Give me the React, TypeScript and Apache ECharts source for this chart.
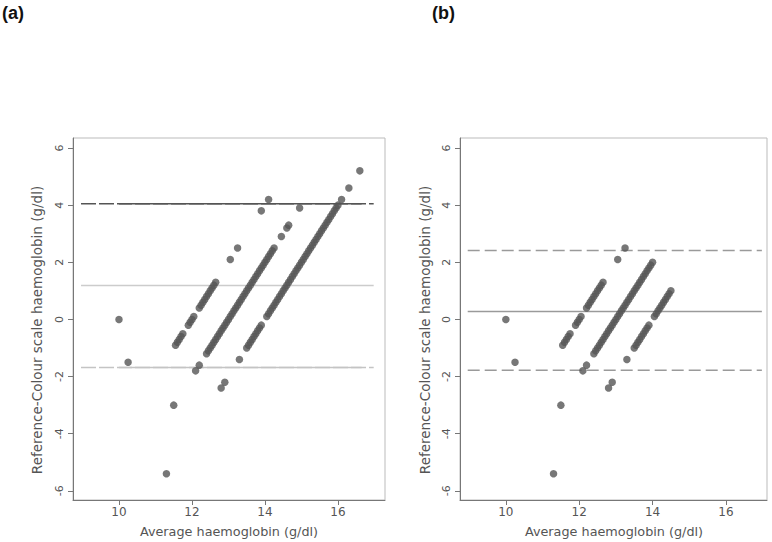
import React, { useEffect, useRef } from "react";
import * as echarts from "echarts";

// Colour-scale readings (g/dl) and the matching reference (analyser) readings (g/dl)
const scaleValues = [10, 11, 12, 13, 14];
const scale10Ref = [10.0];
const scale11Ref = [9.5];
const scale12Ref = [11.1, 11.2, 11.3, 11.4, 11.5, 11.8, 11.9, 12.0, 12.1, 12.4, 12.5, 12.6, 12.7, 12.8, 12.9, 13.0, 13.1, 13.2, 13.3, 14.1, 14.5, 15.8, 16.2];
const scale13Ref = [10.0, 11.2, 11.4, 11.8, 11.9, 12.0, 12.1, 12.2, 12.3, 12.4, 12.5, 12.6, 12.7, 12.8, 12.9, 13.0, 13.1, 13.2, 13.3, 13.4, 13.5, 13.6, 13.7, 13.8, 13.9, 14.0, 14.1, 14.2, 14.3, 14.4, 14.5, 14.6, 14.7, 14.8, 14.9, 15.0, 15.1, 15.2, 15.3, 15.4, 15.5, 15.9, 16.2, 16.3, 16.9];
const scale14Ref = [8.6, 11.6, 11.8, 12.6, 13.0, 13.1, 13.2, 13.3, 13.4, 13.5, 13.6, 13.7, 13.8, 14.1, 14.2, 14.3, 14.4, 14.5, 14.6, 14.7, 14.8, 14.9, 15.0, 15.1, 15.2, 15.3, 15.4, 15.5, 15.6, 15.7, 15.8, 15.9, 16.0, 16.1, 16.2, 16.3, 16.4, 16.5, 16.6, 16.7, 16.8, 16.9, 17.0, 17.1, 17.2, 17.3, 17.4, 17.5, 17.6, 17.7, 17.8, 17.9, 18.0, 18.2, 18.6, 19.2];
const referenceByScale = [scale10Ref, scale11Ref, scale12Ref, scale13Ref, scale14Ref];

// Panel (b) keeps readings with reference haemoglobin up to this value
const maxReferenceB = 15.0;

// Bias and limits of agreement (g/dl)
const limitsA = { lower: -1.68, mean: 1.19, upper: 4.05 };
const limitsB = { lower: -1.78, mean: 0.28, upper: 2.41 };

const xTicks = [10, 12, 14, 16];
const yTicks = [-6, -4, -2, 0, 2, 4, 6];
const panelTitles = ["(a)", "(b)"];
const xTitle = "Average haemoglobin (g/dl)";
const yTitle = "Reference-Colour scale haemoglobin (g/dl)";

function blandAltman(maxRef: number) {
  const pts: number[][] = [];
  scaleValues.forEach((s, i) => {
    referenceByScale[i].forEach((r) => {
      if (r <= maxRef) pts.push([+((r + s) / 2).toFixed(3), +(r - s).toFixed(3)]);
    });
  });
  return pts;
}

const LINE_X0 = 8.96;
const LINE_X1 = 16.98;
const SOLID_X0 = 10.0;
const SOLID_X1 = 16.65;
const FONT = "DejaVu Sans";
const TXT = "#555";

function hLine(idx: number, y: number, x0: number, x1: number, color: string, type: any, width = 1.5) {
  return {
    type: "line",
    xAxisIndex: idx,
    yAxisIndex: idx,
    data: [[x0, y], [x1, y]],
    symbol: "none",
    silent: true,
    z: 1,
    lineStyle: { color, width, type },
  };
}

function axisPair(idx: number, xmin: number, xmax: number) {
  const common = {
    axisLine: { show: true, onZero: false, lineStyle: { color: "#777", width: 1 } },
    axisTick: { show: true, length: 5, lineStyle: { color: "#777" } },
    splitLine: { show: false },
  };
  const x = {
    type: "value",
    gridIndex: idx,
    min: xmin,
    max: xmax,
    ...common,
    axisTick: { ...common.axisTick, customValues: xTicks },
    axisLabel: { customValues: xTicks, color: TXT, fontSize: 12, fontFamily: FONT, margin: 6 },
  };
  const y = {
    type: "value",
    gridIndex: idx,
    min: -6.32,
    max: 6.35,
    ...common,
    axisTick: { ...common.axisTick, customValues: yTicks },
    axisLabel: { customValues: yTicks, rotate: 90, color: TXT, fontSize: 11, fontFamily: FONT, margin: 8 },
  };
  return { x, y };
}

function titleTexts(xCenter: number, yTitleX: number) {
  return [
    {
      type: "text",
      x: xCenter,
      y: 531,
      style: { text: xTitle, fontFamily: FONT, fontSize: 12.8, fill: TXT, align: "center", verticalAlign: "middle" },
    },
    {
      type: "text",
      x: yTitleX,
      y: 330,
      rotation: Math.PI / 2,
      style: { text: yTitle, fontFamily: FONT, fontSize: 13.5, fill: TXT, align: "center", verticalAlign: "middle" },
    },
  ];
}

export default function App() {
  const ref = useRef<HTMLDivElement>(null);
  useEffect(() => {
    if (!ref.current) return;
    const chart = echarts.init(ref.current, undefined, { renderer: "svg" });
    const a = axisPair(0, 8.74, 17.29);
    const b = axisPair(1, 8.75, 17.12);
    const dotStyle = { color: "#555555" };
    chart.setOption({
      animation: false,
      backgroundColor: "#ffffff",
      grid: [
        { left: 73, top: 138, width: 312, height: 362, show: true, borderColor: "#bbbbbb", borderWidth: 1, backgroundColor: "transparent" },
        { left: 460, top: 138, width: 307, height: 362, show: true, borderColor: "#bbbbbb", borderWidth: 1, backgroundColor: "transparent" },
      ],
      xAxis: [a.x, b.x],
      yAxis: [a.y, b.y],
      graphic: [
        { type: "text", left: 2, top: 4, style: { text: panelTitles[0], font: "bold 18px 'Liberation Sans', Arial", fill: "#111" } },
        { type: "text", left: 432, top: 4, style: { text: panelTitles[1], font: "bold 18px 'Liberation Sans', Arial", fill: "#111" } },
        ...titleTexts(229, 37),
        ...titleTexts(614, 425),
      ],
      series: [
        // panel (a)
        hLine(0, limitsA.upper, LINE_X0, LINE_X1, "#555", [15, 3]),
        hLine(0, limitsA.upper, SOLID_X0, SOLID_X1, "#555", "solid"),
        hLine(0, limitsA.mean, LINE_X0, LINE_X1, "#cccccc", "solid"),
        hLine(0, limitsA.lower, LINE_X0, LINE_X1, "#c4c4c4", [15, 3]),
        hLine(0, limitsA.lower, SOLID_X0, SOLID_X1, "#c4c4c4", "solid"),
        {
          type: "scatter",
          xAxisIndex: 0,
          yAxisIndex: 0,
          data: blandAltman(Infinity),
          symbolSize: 7.5,
          itemStyle: dotStyle,
          z: 3,
        },
        // panel (b)
        hLine(1, limitsB.upper, LINE_X0, LINE_X1, "#9a9a9a", [12, 5]),
        hLine(1, limitsB.mean, LINE_X0, LINE_X1, "#9a9a9a", "solid"),
        hLine(1, limitsB.lower, LINE_X0, LINE_X1, "#9a9a9a", [12, 5]),
        {
          type: "scatter",
          xAxisIndex: 1,
          yAxisIndex: 1,
          data: blandAltman(maxReferenceB),
          symbolSize: 7.5,
          itemStyle: dotStyle,
          z: 3,
        },
      ],
    });
    return () => chart.dispose();
  }, []);
  return <div ref={ref} style={{ position: "fixed", left: 0, top: 0, width: 772, height: 542 }} />;
}
